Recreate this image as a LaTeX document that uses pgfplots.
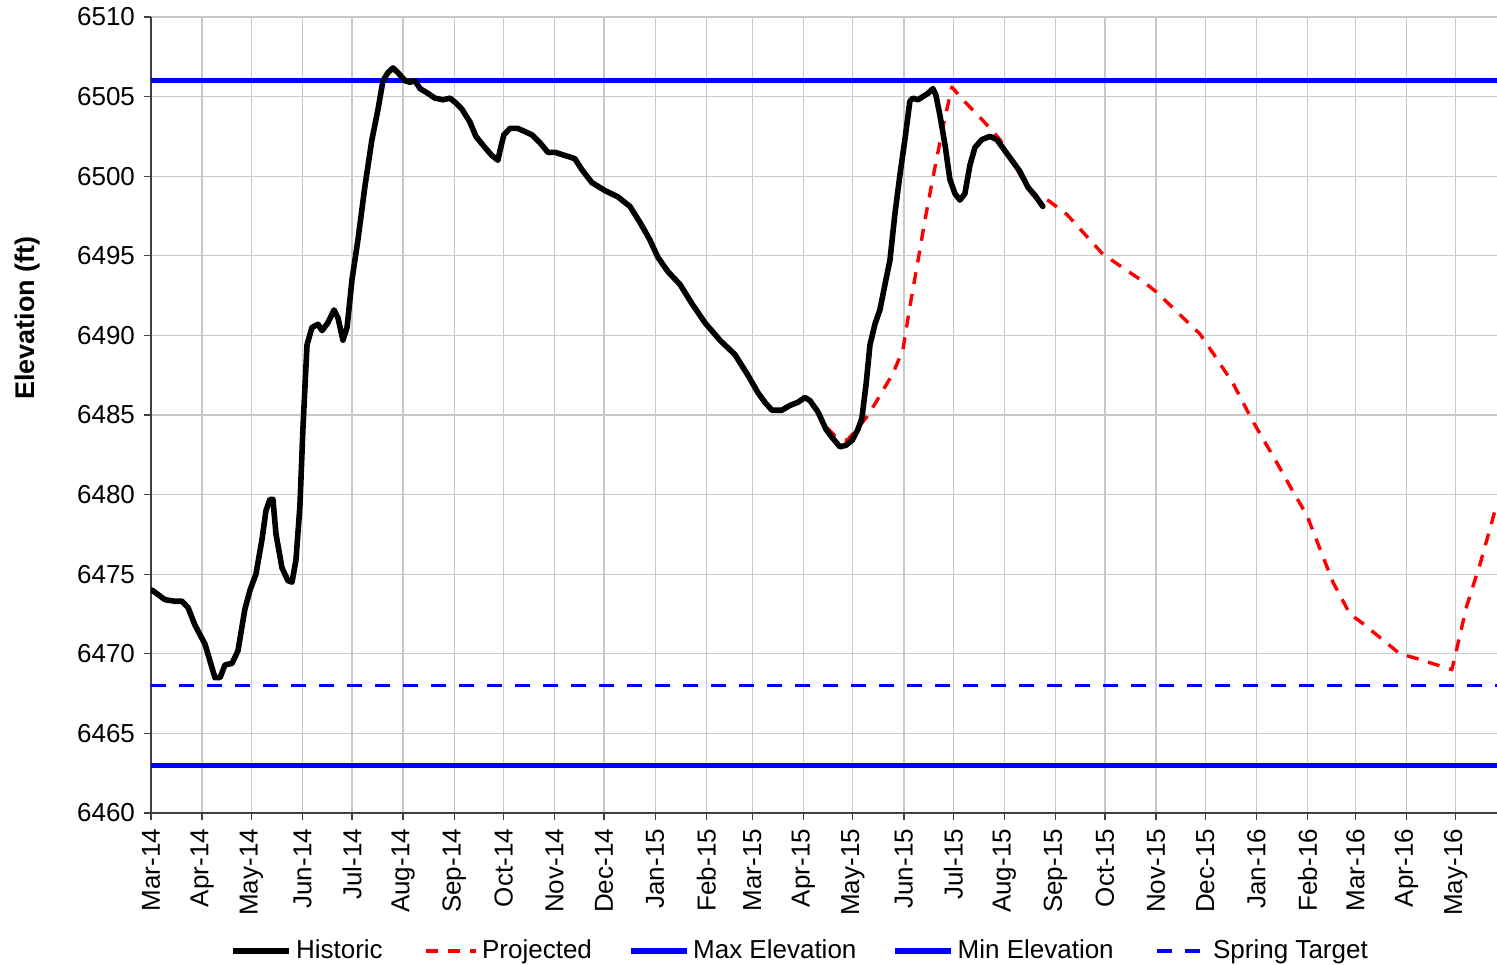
\documentclass[border=0pt]{standalone}
\usepackage{pgfplots}
\pgfplotsset{compat=1.18}
\usepackage{fontspec}
\setmainfont{Liberation Sans}
\begin{document}
\fontsize{13pt}{15.6pt}\selectfont
\begin{tikzpicture}
\begin{axis}[
  name=ax,
  scale only axis,
  width=673pt, height=398pt,
  xmin=0, xmax=817, ymin=6460, ymax=6510,
  xtick={0,31,61,92,122,153,184,214,245,275,306,337,365,396,426,457,487,518,549,579,610,640,671,702,731,762,792},
  xticklabels={Mar-14,Apr-14,May-14,Jun-14,Jul-14,Aug-14,Sep-14,Oct-14,Nov-14,Dec-14,Jan-15,Feb-15,Mar-15,Apr-15,May-15,Jun-15,Jul-15,Aug-15,Sep-15,Oct-15,Nov-15,Dec-15,Jan-16,Feb-16,Mar-16,Apr-16,May-16},
  ytick distance=5,
  /pgf/number format/assume math mode=true,
  /pgf/number format/1000 sep={},
  axis x line*=bottom, axis y line*=left,
  axis line style={black!75, line width=0.8pt},
  tick align=outside, major tick length=3.5pt,
  tick style={black!75, line width=0.6pt},
  grid=major, grid style={gray!42, line width=0.6pt},
  xticklabel style={rotate=90, anchor=east, font=\fontsize{13pt}{15pt}\selectfont},
  yticklabel style={font=\fontsize{13pt}{15pt}\selectfont},
  ylabel={\bfseries Elevation (ft)},
  every axis y label/.style={at={(axis description cs:-0.092,0.622)}, rotate=90, anchor=center, font=\fontsize{13.5pt}{16pt}\selectfont},
  legend image code/.code={\draw[#1] (0pt,0pt) -- (28pt,0pt);},
  legend style={at={(0.483,-0.1734)}, anchor=center, draw=none, fill=none,
    legend columns=5, font=\fontsize{13pt}{15pt}\selectfont,
    /tikz/every even column/.append style={column sep=16pt}},
]
\addlegendimage{black, line width=2.8pt}
\addlegendentry{Historic}
\addlegendimage{red, line width=1.7pt, dash pattern=on 6pt off 5pt, dash phase=-3pt}
\addlegendentry{Projected}
\addlegendimage{blue, line width=2.6pt}
\addlegendentry{Max Elevation}
\addlegendimage{blue, line width=2.6pt}
\addlegendentry{Min Elevation}
\addlegendimage{blue, line width=1.7pt, dash pattern=on 7.5pt off 6.5pt, dash phase=-3pt}
\addlegendentry{Spring Target}

\addplot[blue, line width=2.6pt, forget plot] coordinates {(0,6506) (817,6506)};
\addplot[blue, line width=2.6pt, forget plot] coordinates {(0,6463) (817,6463)};
\addplot[blue, line width=1.7pt, dash pattern=on 7.5pt off 6.5pt, forget plot] coordinates {(0,6468) (817,6468)};

\addplot[red, line width=1.7pt, dash pattern=on 6pt off 5pt, line join=round, forget plot] table {
x y
410.3 6484.2
415.1 6483.7
422.4 6483.4
428.5 6484.1
434.6 6484.9
440.6 6485.9
450.3 6487.6
456.4 6489.1
460.6 6491.8
464.9 6494.3
469.7 6497.2
474.6 6499.9
480.7 6503.1
486.1 6505.6
492.8 6504.8
504.9 6503.5
515.3 6502.3
527.4 6500.1
535.3 6498.8
541.3 6498.7
545.6 6498.4
555.9 6497.6
577.8 6495.1
602.0 6493.4
610.6 6492.7
624.5 6491.3
636.6 6490.1
644.5 6488.9
656.7 6487.0
668.8 6484.6
683.4 6482.0
693.1 6480.2
701.6 6478.7
717.4 6474.5
727.7 6472.5
735.6 6471.9
758.0 6470.0
768.4 6469.7
789.6 6469.0
798.6 6473.0
806.6 6475.6
812.6 6477.8
816.8 6479.4
};

\addplot[black, line width=2.8pt, line join=round, line cap=round, forget plot] table {
x y
0.6 6474.0
8.5 6473.4
14.6 6473.3
18.8 6473.3
22.5 6472.9
26.7 6471.8
32.8 6470.6
38.8 6468.5
41.9 6468.5
44.9 6469.3
49.2 6469.4
52.8 6470.2
57.0 6472.8
60.1 6474.0
63.7 6475.0
67.4 6477.2
69.8 6479.0
72.2 6479.7
74.0 6479.7
75.9 6477.5
79.5 6475.4
83.1 6474.6
85.6 6474.5
88.0 6475.9
90.4 6479.3
92.2 6484.1
94.7 6489.4
97.7 6490.5
101.4 6490.7
103.8 6490.3
107.4 6490.8
111.1 6491.6
113.5 6491.1
116.5 6489.7
119.0 6490.5
122.0 6493.5
125.6 6496.0
129.9 6499.4
134.1 6502.3
137.8 6504.2
140.8 6506.0
143.8 6506.5
146.9 6506.8
149.9 6506.5
154.2 6506.0
157.2 6505.9
160.2 6506.0
163.3 6505.5
168.1 6505.2
172.4 6504.9
177.2 6504.8
181.5 6504.9
185.1 6504.6
188.8 6504.2
193.6 6503.4
197.2 6502.5
202.7 6501.8
206.9 6501.3
210.6 6501.0
211.8 6501.6
214.2 6502.6
217.9 6503.0
222.7 6503.0
227.0 6502.8
231.2 6502.6
236.1 6502.1
240.9 6501.5
245.2 6501.5
251.3 6501.3
257.3 6501.1
261.6 6500.4
267.6 6499.6
275.5 6499.1
283.4 6498.7
290.7 6498.1
296.8 6497.1
302.8 6496.0
307.7 6494.9
313.8 6494.0
321.1 6493.2
328.3 6492.0
336.2 6490.8
345.3 6489.7
354.4 6488.8
362.3 6487.5
368.4 6486.4
372.6 6485.8
376.9 6485.3
382.9 6485.3
387.8 6485.6
392.7 6485.8
396.9 6486.1
400.0 6485.9
404.8 6485.2
409.7 6484.1
413.3 6483.6
418.2 6483.0
421.8 6483.1
425.5 6483.4
429.1 6484.1
431.5 6484.8
434.0 6486.9
436.4 6489.4
439.4 6490.7
442.4 6491.6
446.1 6493.5
448.5 6494.7
451.5 6497.6
454.6 6500.1
457.6 6502.3
460.6 6504.7
462.5 6504.9
465.5 6504.8
468.5 6505.0
471.6 6505.2
474.6 6505.5
476.4 6505.1
478.9 6503.8
481.9 6502.0
484.9 6499.8
488.0 6498.9
491.0 6498.5
494.0 6498.9
497.1 6500.7
500.1 6501.8
504.3 6502.3
509.2 6502.5
513.4 6502.3
518.3 6501.6
522.5 6501.0
527.4 6500.3
532.3 6499.3
536.5 6498.8
541.3 6498.1
};
\end{axis}
\pgfresetboundingbox
\path[use as bounding box] ([xshift=-75.5pt,yshift=-76pt]ax.south west) rectangle ([yshift=8.5pt]ax.north east);
\end{tikzpicture}
\end{document}
